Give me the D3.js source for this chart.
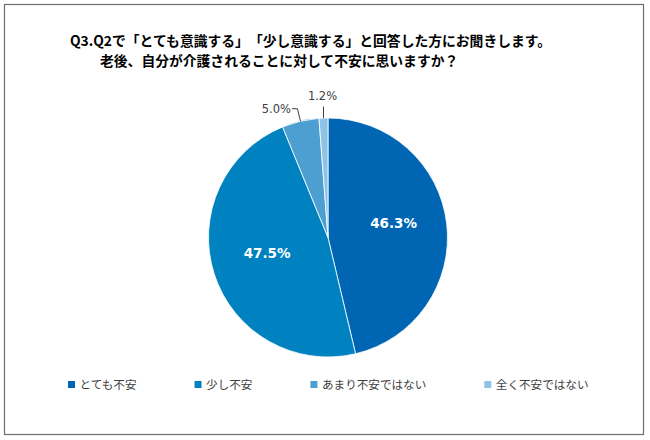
<!DOCTYPE html>
<html><head><meta charset="utf-8">
<script src="https://cdn.jsdelivr.net/npm/d3@7"></script>
<style>body{margin:0;background:#fff}svg{display:block}text{text-spacing-trim:space-all;font-feature-settings:"chws" 0,"halt" 0,"palt" 0}</style>
</head><body>
<svg id="c" width="650" height="440"></svg>
<script>
const titleLines = ["Q3.Q2で「とても意識する」「少し意識する」と回答した方にお聞きします。", "老後、自分が介護されることに対して不安に思いますか？"];
const categories = ["とても不安", "少し不安", "あまり不安ではない", "全く不安ではない"];
const values = [46.3, 47.5, 5.0, 1.2];
const colors = ["#0066b3", "#0082c0", "#4d9fd2", "#8dc3e6"];

const svg = d3.select("#c");
svg.append("rect").attr("x",4.5).attr("y",4.5).attr("width",639).attr("height",430)
  .attr("fill","#fff").attr("stroke","#6e6e6e").attr("stroke-width",1.2);

const tfont = "'Noto Sans CJK JP','Noto Sans',sans-serif";
svg.append("text").attr("x",70).attr("y",45.5).attr("font-family",tfont).attr("font-weight","bold")
  .attr("font-size","13.8px").attr("fill","#000").text(titleLines[0]);
svg.append("text").attr("x",100).attr("y",65.5).attr("font-family",tfont).attr("font-weight","bold")
  .attr("font-size","13.8px").attr("fill","#000").text(titleLines[1]);

const cx = 328, cy = 237.5, r = 119.5;
const pie = d3.pie().sort(null).value(d => d)(values);
const arc = d3.arc().innerRadius(0).outerRadius(r);
const g = svg.append("g").attr("transform", `translate(${cx},${cy})`);
g.selectAll("path").data(pie).join("path").attr("d", arc)
  .attr("fill", (d,i) => colors[i]).attr("stroke","#fff").attr("stroke-width",0.8);

// inner labels for the large slices
const offs = [[1,-6.5],[1,-4]];
pie.slice(0,2).forEach((d,i) => {
  const c = d3.arc().innerRadius(0).outerRadius(2*65).centroid(d);
  g.append("text").attr("x", c[0]+offs[i][0]).attr("y", c[1]+offs[i][1]).attr("dy","0.36em")
    .attr("text-anchor","middle").attr("font-family","'DejaVu Sans',Verdana,sans-serif")
    .attr("font-weight","bold").attr("font-size","13.5px").attr("fill","#fff")
    .text(values[i].toFixed(1)+"%");
});

// outside labels with leader lines
const lf = "'DejaVu Sans',Verdana,sans-serif";
const edge = d => { const a = (d.startAngle+d.endAngle)/2; return [r*Math.sin(a), -r*Math.cos(a)]; };
{
  const d = pie[2], e = edge(d);
  g.append("path").attr("d", `M${e[0]},${e[1]} L${e[0]-3},${e[1]-12.5} L${e[0]-8.5},${e[1]-12.5}`)
    .attr("fill","none").attr("stroke","#404040").attr("stroke-width",1);
  g.append("text").attr("x", e[0]-9.5).attr("y", e[1]-12.5).attr("dy","0.36em").attr("text-anchor","end")
    .attr("font-family",lf).attr("font-size","11.5px").attr("fill","#404040").text(values[2].toFixed(1)+"%");
}
{
  const d = pie[3], e = edge(d);
  g.append("line").attr("x1", e[0]).attr("y1", e[1]).attr("x2", e[0]).attr("y2", e[1]-11.5)
    .attr("stroke","#404040").attr("stroke-width",1);
  g.append("text").attr("x", e[0]-1).attr("y", -137.5).attr("text-anchor","middle")
    .attr("font-family",lf).attr("font-size","11.5px").attr("fill","#404040").text(values[3].toFixed(1)+"%");
}

// legend
const lg = svg.append("g");
let x = 68;
categories.forEach((c,i) => {
  lg.append("rect").attr("x", x).attr("y", 381).attr("width",7).attr("height",7).attr("fill", colors[i]);
  const t = lg.append("text").attr("x", x+11.5).attr("y", 388.5).attr("font-family",tfont)
    .attr("font-size","11.6px").attr("fill","#404040").text(c);
  const w = t.node().getComputedTextLength();
  x = x + 11.5 + w + 58;
});
</script>
</body></html>
